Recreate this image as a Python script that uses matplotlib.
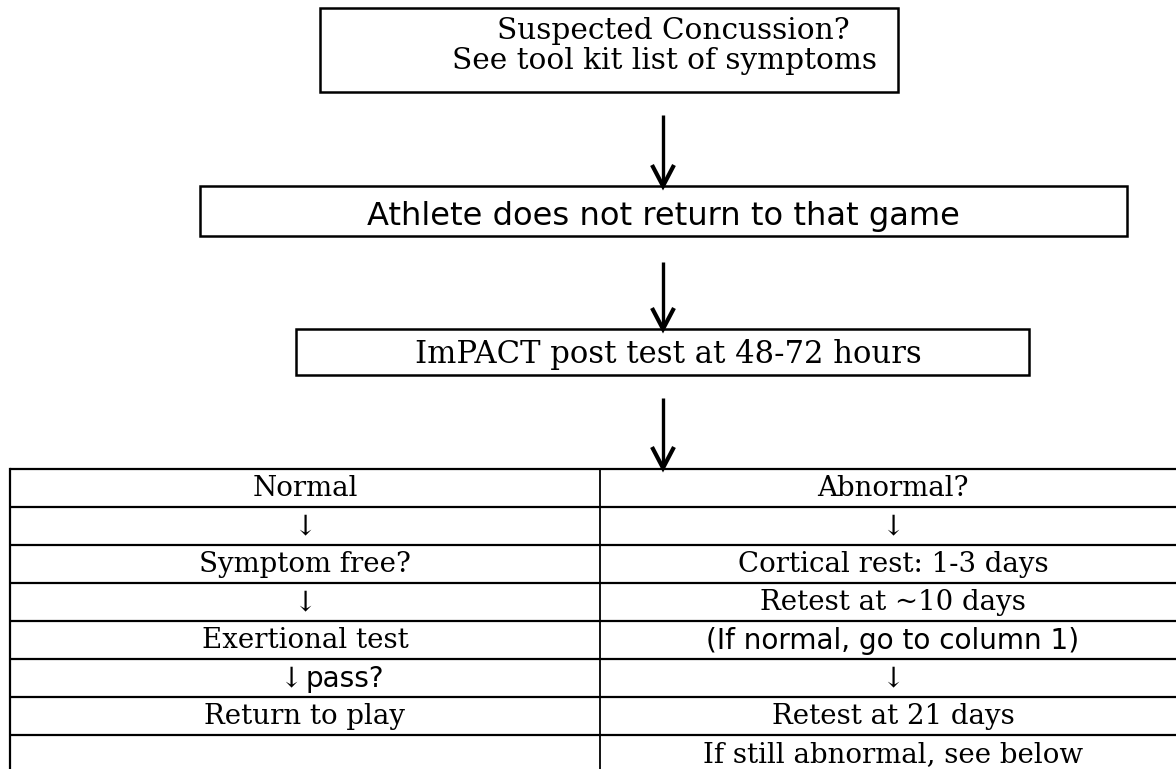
import matplotlib
matplotlib.use("Agg")
import matplotlib.pyplot as plt
from matplotlib.patches import Rectangle

# ---- content ----
box_lines = [
    ["Suspected Concussion?", "See tool kit list of symptoms"],
    ["Athlete does not return to that game"],
    ["ImPACT post test at 48-72 hours"],
]

left_col = ["Normal", "\u2193", "Symptom free?", "\u2193", "Exertional test",
            "\u2193 pass?", "Return to play", ""]
right_col = ["Abnormal?", "\u2193", "Cortical rest: 1-3 days", "Retest at ~10 days",
             "(If normal, go to column 1)", "\u2193", "Retest at 21 days",
             "If still abnormal, see below"]
sans_cells = {"(If normal, go to column 1)"}

# ---- layout (pixels) ----
W, H = 1176, 769
boxes = [(320, 8, 898, 92), (200, 186, 1127, 236), (296, 329, 1029, 375)]
line_pos = [[(673, 31), (665, 61)], [(663, 216)], [(668, 355)]]
arrows = [(663, 115, 186), (663, 262, 329), (663, 398, 468)]
tab_x0, tab_xm, tab_x1 = 10, 600, 1190
tab_y0, row_h = 469, 38.0

SERIF = ["DejaVu Serif"]
SANS = ["DejaVu Sans"]

fig = plt.figure(figsize=(W / 100, H / 100), dpi=100)
ax = fig.add_axes([0, 0, 1, 1])
ax.set_xlim(0, W)
ax.set_ylim(H, 0)
ax.axis("off")
fig.canvas.draw()
renderer = fig.canvas.get_renderer()


def fit(text, family, target_w, base=20.0):
    t = ax.text(0, 0, text, fontsize=base, family=family)
    w = t.get_window_extent(renderer).width
    t.remove()
    return base * target_w / w


box_fam = [SERIF, SANS, SERIF]
box_fs = [fit(box_lines[0][1], SERIF, 424),
          fit(box_lines[1][0], SANS, 593),
          fit(box_lines[2][0], SERIF, 505)]
fs_tab = fit("If still abnormal, see below", SERIF, 379)
fs_tab_sans = fit("(If normal, go to column 1)", SANS, 374)

# boxes
for (x0, y0, x1, y1), lines, pos, fam, fs in zip(boxes, box_lines, line_pos,
                                                 box_fam, box_fs):
    ax.add_patch(Rectangle((x0, y0), x1 - x0, y1 - y0, fill=False,
                           edgecolor="black", linewidth=1.8))
    for txt, (cx, cy) in zip(lines, pos):
        ax.text(cx, cy, txt, family=fam, fontsize=fs, ha="center", va="center")

# arrows
for x, ya, yb in arrows:
    ax.plot([x, x], [ya, yb - 2], color="black", lw=2.4, solid_capstyle="butt")
    ax.plot([x - 11, x, x + 11], [yb - 21, yb, yb - 21], color="black", lw=3.0,
            solid_joinstyle="miter", solid_capstyle="butt")

# table grid
n_rows = len(left_col)
for i in range(n_rows):
    y = tab_y0 + i * row_h
    ax.plot([tab_x0, W + 5], [y, y], color="black", lw=1.6, solid_capstyle="butt")
ax.plot([tab_x0, tab_x0], [tab_y0, H + 5], color="black", lw=1.6)
ax.plot([tab_xm, tab_xm], [tab_y0, H + 5], color="black", lw=1.3)

cxl = (tab_x0 + tab_xm) / 2
cxr = (tab_xm + tab_x1) / 2 - 2
for i, (lt, rt) in enumerate(zip(left_col, right_col)):
    cy = tab_y0 + i * row_h + row_h / 2 + 1
    if lt.startswith("\u2193 "):
        ax.text(302, cy, "\u2193", family=SERIF, fontsize=fs_tab, ha="right", va="center")
        ax.text(306, cy, lt[2:], family=SANS, fontsize=fs_tab_sans, ha="left", va="center")
    elif lt:
        ax.text(cxl, cy, lt, family=SERIF, fontsize=fs_tab, ha="center", va="center")
    if rt:
        fam = SANS if rt in sans_cells else SERIF
        fs = fs_tab_sans if rt in sans_cells else fs_tab
        ax.text(cxr, cy, rt, family=fam, fontsize=fs, ha="center", va="center")

fig.savefig("out.png", dpi=100, facecolor="white")
